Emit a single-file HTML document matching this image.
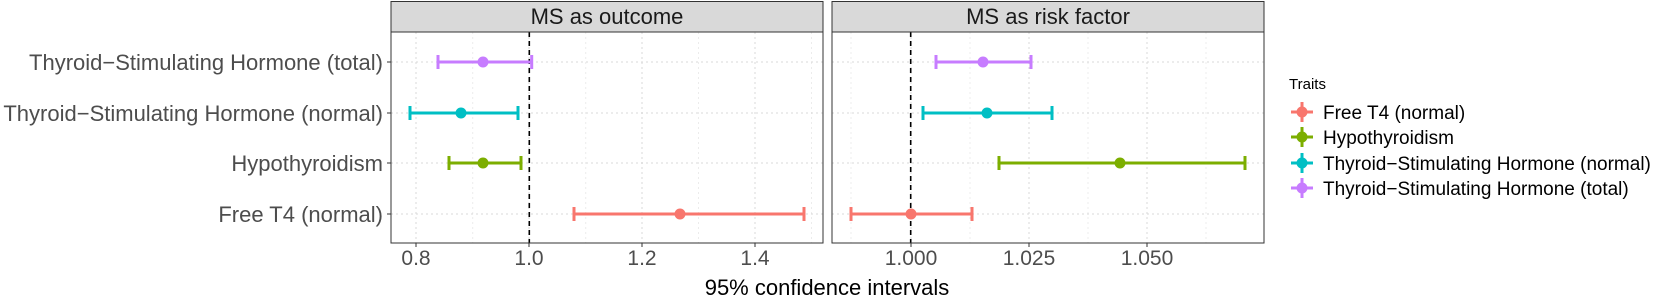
<!DOCTYPE html>
<html><head><meta charset="utf-8"><style>body{margin:0;background:#fff}</style></head><body>
<svg width="1654" height="301" xmlns="http://www.w3.org/2000/svg" font-family="Liberation Sans, sans-serif">
<rect width="1654" height="301" fill="#fff"/>
<g stroke="#d9d9d9" stroke-dasharray="2,3" stroke-width="1">
<line x1="472.7" y1="32" x2="472.7" y2="243" stroke="#ececec"/><line x1="585.7" y1="32" x2="585.7" y2="243" stroke="#ececec"/><line x1="698.5" y1="32" x2="698.5" y2="243" stroke="#ececec"/><line x1="811.5" y1="32" x2="811.5" y2="243" stroke="#ececec"/>
<line x1="416" y1="32" x2="416" y2="243"/><line x1="529" y1="32" x2="529" y2="243"/><line x1="642" y1="32" x2="642" y2="243"/><line x1="755" y1="32" x2="755" y2="243"/>
<line x1="391" y1="62" x2="823" y2="62"/><line x1="391" y1="113" x2="823" y2="113"/><line x1="391" y1="163" x2="823" y2="163"/><line x1="391" y1="214" x2="823" y2="214"/>
</g>
<g stroke="#d9d9d9" stroke-dasharray="2,3" stroke-width="1">
<line x1="851" y1="32" x2="851" y2="243" stroke="#ececec"/><line x1="970" y1="32" x2="970" y2="243" stroke="#ececec"/><line x1="1088" y1="32" x2="1088" y2="243" stroke="#ececec"/><line x1="1206" y1="32" x2="1206" y2="243" stroke="#ececec"/>
<line x1="911" y1="32" x2="911" y2="243"/><line x1="1029" y1="32" x2="1029" y2="243"/><line x1="1147" y1="32" x2="1147" y2="243"/>
<line x1="832" y1="62" x2="1264" y2="62"/><line x1="832" y1="113" x2="1264" y2="113"/><line x1="832" y1="163" x2="1264" y2="163"/><line x1="832" y1="214" x2="1264" y2="214"/>
</g>
<line x1="529.3" y1="32" x2="529.3" y2="243" stroke="#000" stroke-width="1.6" stroke-dasharray="5,4"/>
<line x1="910.7" y1="32" x2="910.7" y2="243" stroke="#000" stroke-width="1.6" stroke-dasharray="5,4"/>
<g stroke-width="3" fill="none">
<path d="M438 62H531.7M438 55V69M531.7 55V69" stroke="#C77CFF"/>
<path d="M410 113H518M410 106V120M518 106V120" stroke="#00BFC4"/>
<path d="M449 163H521M449 156V170M521 156V170" stroke="#7CAE00"/>
<path d="M574 214H804M574 207V221M804 207V221" stroke="#F8766D"/>
<path d="M936 62H1031M936 55V69M1031 55V69" stroke="#C77CFF"/>
<path d="M923 113H1052M923 106V120M1052 106V120" stroke="#00BFC4"/>
<path d="M999 163H1245M999 156V170M1245 156V170" stroke="#7CAE00"/>
<path d="M851 214H972M851 207V221M972 207V221" stroke="#F8766D"/>
</g>
<circle cx="483" cy="62" r="5.5" fill="#C77CFF"/><circle cx="461" cy="113" r="5.5" fill="#00BFC4"/><circle cx="483" cy="163" r="5.5" fill="#7CAE00"/><circle cx="680" cy="214" r="5.5" fill="#F8766D"/>
<circle cx="983" cy="62" r="5.5" fill="#C77CFF"/><circle cx="987" cy="113" r="5.5" fill="#00BFC4"/><circle cx="1120" cy="163" r="5.5" fill="#7CAE00"/><circle cx="911" cy="214" r="5.5" fill="#F8766D"/>
<rect x="391" y="1.5" width="432" height="30.5" fill="#d9d9d9" stroke="#333" stroke-width="1"/>
<rect x="832" y="1.5" width="432" height="30.5" fill="#d9d9d9" stroke="#333" stroke-width="1"/>
<rect x="391" y="32" width="432" height="211" fill="none" stroke="#333" stroke-width="1"/>
<rect x="832" y="32" width="432" height="211" fill="none" stroke="#333" stroke-width="1"/>
<text x="607" y="24" font-size="22" text-anchor="middle" fill="#1a1a1a">MS as outcome</text>
<text x="1048" y="24" font-size="22" text-anchor="middle" fill="#1a1a1a">MS as risk factor</text>
<g stroke="#333"><path d="M387 62H391M387 113H391M387 163H391M387 214H391"/>
<path d="M416 243V247M529 243V247M642 243V247M755 243V247M911 243V247M1029 243V247M1147 243V247"/></g>
<g font-size="22" fill="#4d4d4d" text-anchor="end">
<text x="383" y="70">Thyroid−Stimulating Hormone (total)</text>
<text x="383" y="121">Thyroid−Stimulating Hormone (normal)</text>
<text x="383" y="171">Hypothyroidism</text>
<text x="383" y="222">Free T4 (normal)</text>
</g>
<g font-size="21" fill="#4d4d4d" text-anchor="middle">
<text x="416" y="265">0.8</text><text x="529" y="265">1.0</text><text x="642" y="265">1.2</text><text x="755" y="265">1.4</text>
<text x="911" y="265">1.000</text><text x="1029" y="265">1.025</text><text x="1147" y="265">1.050</text>
</g>
<text x="827" y="295" font-size="22" text-anchor="middle" fill="#000">95% confidence intervals</text>
<text x="1289" y="89" font-size="15" fill="#000">Traits</text>
<g stroke-width="3">
<path d="M1291 112H1313M1302 102V122" stroke="#F8766D"/><circle cx="1302" cy="112" r="5.5" fill="#F8766D"/>
<path d="M1291 137H1313M1302 127V147" stroke="#7CAE00"/><circle cx="1302" cy="137" r="5.5" fill="#7CAE00"/>
<path d="M1291 163H1313M1302 153V173" stroke="#00BFC4"/><circle cx="1302" cy="163" r="5.5" fill="#00BFC4"/>
<path d="M1291 188H1313M1302 178V198" stroke="#C77CFF"/><circle cx="1302" cy="188" r="5.5" fill="#C77CFF"/>
</g>
<g font-size="19" fill="#000">
<text x="1323" y="119">Free T4 (normal)</text>
<text x="1323" y="144">Hypothyroidism</text>
<text x="1323" y="170">Thyroid−Stimulating Hormone (normal)</text>
<text x="1323" y="195">Thyroid−Stimulating Hormone (total)</text>
</g>
</svg>
</body></html>
